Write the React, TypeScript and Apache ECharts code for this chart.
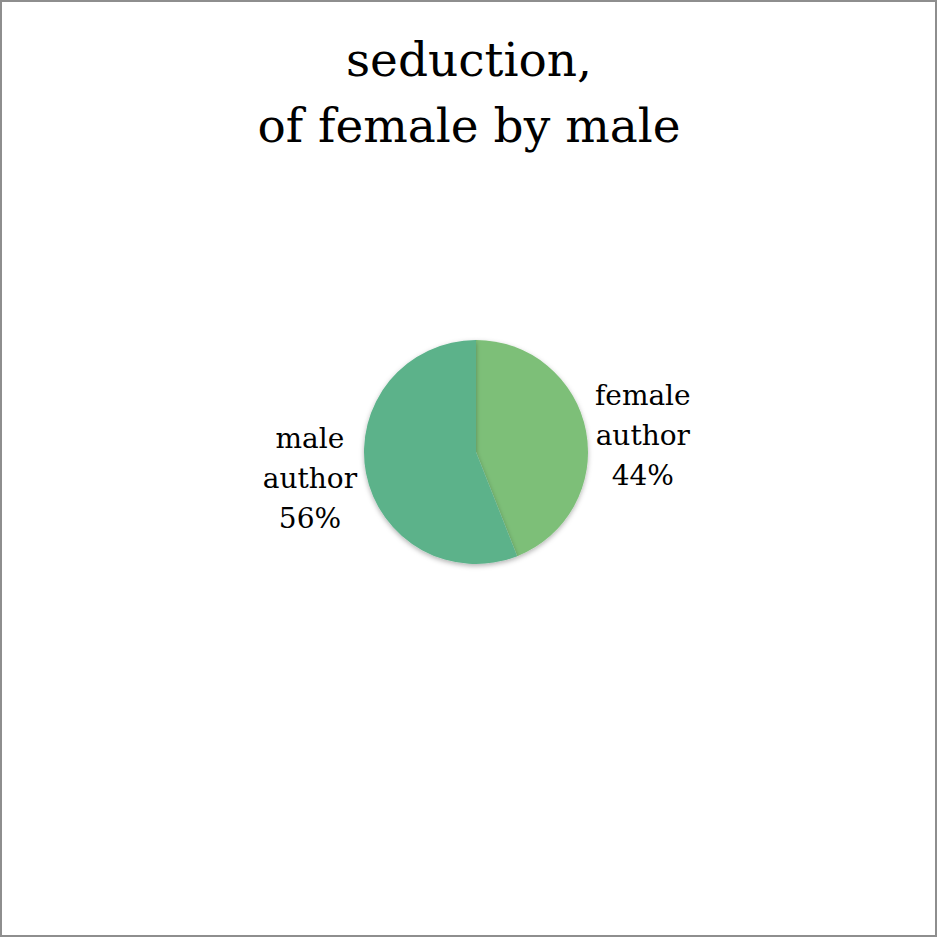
import React, { useEffect, useRef } from "react";
import * as echarts from "echarts";

const categories = ["female author", "male author"];
const values = [44, 56];
const colors = ["#7dbf78", "#5bb28a"];
const titleText = "seduction,\nof female by male";

export default function App() {
  const ref = useRef<HTMLDivElement>(null);
  useEffect(() => {
    document.body.style.margin = "0";
    const chart = echarts.init(ref.current!, null, { renderer: "svg" });
    chart.setOption({
      animation: false,
      backgroundColor: "#ffffff",
      title: {
        text: titleText,
        left: "center",
        top: 21,
        textStyle: {
          fontFamily: "DejaVu Serif",
          fontWeight: "normal",
          fontSize: 47,
          lineHeight: 66,
          color: "#000000",
        },
      },
      series: [
        {
          type: "pie",
          center: [476, 452],
          radius: 112,
          startAngle: 90,
          clockwise: true,
          avoidLabelOverlap: false,
          data: categories.map((c, i) => ({
            name: c,
            value: values[i],
            itemStyle: { color: colors[i] },
          })),
          itemStyle: {
            shadowBlur: 5,
            shadowColor: "rgba(0,0,0,0.3)",
            shadowOffsetY: 2,
          },
          label: {
            show: true,
            position: "outside",
            padding: [10, 0, 0, 0],
            formatter: (p: any) => {
              const parts = String(p.name).split(" ");
              return parts.map((s: string) => `{c|${s}}`).join("\n") + `\n{c|${Math.round(p.percent)}%}`;
            },
            rich: {
              c: {
                align: "center",
                fontFamily: "DejaVu Serif",
                fontSize: 28,
                lineHeight: 40,
                color: "#000000",
              },
            },
          },
          labelLine: { show: false, length: 4, length2: 0 },
          emphasis: { disabled: true },
        },
      ],
    });
    return () => chart.dispose();
  }, []);
  return (
    <div style={{ position: "absolute", left: 0, top: 0, width: 938, height: 938, background: "#fff" }}>
      <div ref={ref} style={{ position: "absolute", left: 0, top: 0, width: 938, height: 938 }} />
      <div
        style={{
          position: "absolute",
          left: 0,
          top: 0,
          width: 937,
          height: 937,
          boxSizing: "border-box",
          border: "2px solid #8e8e8e",
          pointerEvents: "none",
        }}
      />
    </div>
  );
}
